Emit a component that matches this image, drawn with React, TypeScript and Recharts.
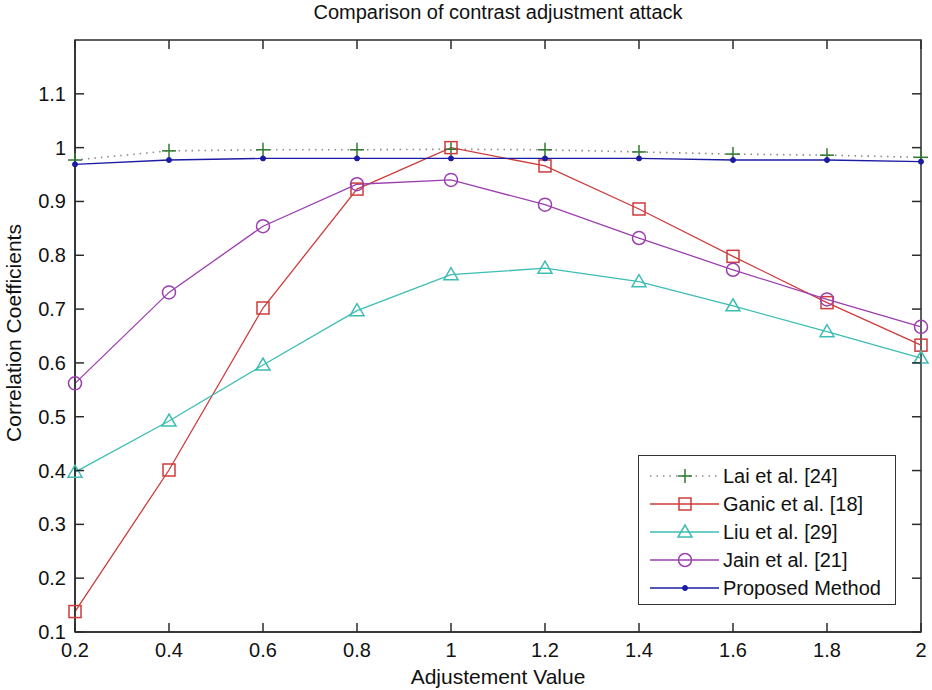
import { LineChart, Line, XAxis, YAxis, Legend, ReferenceArea } from "recharts";

const FONT = "'Liberation Sans', Arial, sans-serif";
const AXIS = "#2b2b2b";

// plot frame edges (px) used for the mirrored inner ticks
const PLOT_TOP = 40;
const PLOT_RIGHT = 921;

// adjustment values on the x axis
const adjustment = [0.2, 0.4, 0.6, 0.8, 1.0, 1.2, 1.4, 1.6, 1.8, 2.0];

// correlation coefficients per method
const lai = [0.977, 0.994, 0.996, 0.996, 0.997, 0.996, 0.992, 0.988, 0.986, 0.982];
const ganic = [0.138, 0.401, 0.702, 0.923, 1.0, 0.966, 0.886, 0.798, 0.712, 0.633];
const liu = [0.397, 0.492, 0.596, 0.697, 0.764, 0.776, 0.751, 0.706, 0.658, 0.609];
const jain = [0.562, 0.731, 0.854, 0.932, 0.94, 0.894, 0.832, 0.773, 0.718, 0.667];
const proposed = [0.969, 0.977, 0.98, 0.98, 0.98, 0.98, 0.98, 0.977, 0.977, 0.974];

const xTicks = [0.2, 0.4, 0.6, 0.8, 1, 1.2, 1.4, 1.6, 1.8, 2];
const yTicks = [0.1, 0.2, 0.3, 0.4, 0.5, 0.6, 0.7, 0.8, 0.9, 1, 1.1];

const data = adjustment.map((x, i) => ({
  x,
  lai: lai[i],
  ganic: ganic[i],
  liu: liu[i],
  jain: jain[i],
  proposed: proposed[i],
}));

type MarkerKind = "plus" | "square" | "triangle" | "circle" | "dot";

const SERIES: {
  key: string;
  name: string;
  line: string;
  marker: string;
  kind: MarkerKind;
  dash?: string;
}[] = [
  { key: "lai", name: "Lai et al. [24]", line: "#8a8a8a", marker: "#2f7a2f", kind: "plus", dash: "1.5 5" },
  { key: "ganic", name: "Ganic et al. [18]", line: "#cf3b3b", marker: "#cf3b3b", kind: "square" },
  { key: "liu", name: "Liu et al. [29]", line: "#3dbdb4", marker: "#3dbdb4", kind: "triangle" },
  { key: "jain", name: "Jain et al. [21]", line: "#9c3fae", marker: "#9c3fae", kind: "circle" },
  { key: "proposed", name: "Proposed Method", line: "#1b1ba3", marker: "#1b1ba3", kind: "dot" },
];

function Marker({ kind, cx, cy, color }: { kind: MarkerKind; cx: number; cy: number; color: string }) {
  const common = { fill: "none", stroke: color, strokeWidth: 1.5 };
  switch (kind) {
    case "plus":
      return (
        <g {...common}>
          <line x1={cx - 7} y1={cy} x2={cx + 7} y2={cy} />
          <line x1={cx} y1={cy - 7} x2={cx} y2={cy + 7} />
        </g>
      );
    case "square":
      return <rect x={cx - 6} y={cy - 6} width={12} height={12} {...common} />;
    case "triangle":
      return <polygon points={`${cx},${cy - 7} ${cx - 7},${cy + 5} ${cx + 7},${cy + 5}`} {...common} />;
    case "circle":
      return <circle cx={cx} cy={cy} r={6.5} {...common} />;
    default:
      return <circle cx={cx} cy={cy} r={2.5} fill={color} stroke={color} strokeWidth={1} />;
  }
}

const fmt = (v: number) => String(Math.round(v * 10) / 10);

// bottom tick: inward mark on the bottom and top frame, label below
const BottomTick = ({ x, y, payload }: any) => (
  <g>
    <line x1={x} y1={y} x2={x} y2={y - 9} stroke={AXIS} strokeWidth={1.5} />
    <line x1={x} y1={PLOT_TOP} x2={x} y2={PLOT_TOP + 9} stroke={AXIS} strokeWidth={1.5} />
    <text x={x} y={y + 25} textAnchor="middle" fontSize={20} fontFamily={FONT} fill="#111">
      {fmt(payload.value)}
    </text>
  </g>
);

// left tick: inward mark on the left and right frame, label to the left
const LeftTick = ({ x, y, payload }: any) => (
  <g>
    <line x1={x} y1={y} x2={x + 9} y2={y} stroke={AXIS} strokeWidth={1.5} />
    <line x1={PLOT_RIGHT} y1={y} x2={PLOT_RIGHT - 9} y2={y} stroke={AXIS} strokeWidth={1.5} />
    <text x={x - 9} y={y + 7} textAnchor="end" fontSize={20} fontFamily={FONT} fill="#111">
      {fmt(payload.value)}
    </text>
  </g>
);

const LegendBox = () => (
  <div
    style={{
      width: 258,
      height: 150,
      border: "1.5px solid #333",
      background: "#fff",
      boxSizing: "border-box",
      paddingTop: 6,
      fontFamily: FONT,
      fontSize: 20,
      color: "#111",
    }}
  >
    {SERIES.map((s) => (
      <div key={s.key} style={{ display: "flex", alignItems: "center", height: 28 }}>
        <svg width={84} height={28} style={{ flex: "none" }}>
          <line x1={11} y1={14} x2={80} y2={14} stroke={s.line} strokeWidth={1.5} strokeDasharray={s.dash} />
          <Marker kind={s.kind} cx={46} cy={14} color={s.marker} />
        </svg>
        <span style={{ whiteSpace: "nowrap" }}>{s.name}</span>
      </div>
    ))}
  </div>
);

export default function App() {
  return (
    <div style={{ position: "relative", width: 932, height: 690, background: "#fff" }}>
      <style>{"body{margin:0}"}</style>
      <LineChart
        width={932}
        height={690}
        data={data}
        margin={{ top: PLOT_TOP, right: 932 - PLOT_RIGHT, bottom: 0, left: 0 }}
      >
        <XAxis
          dataKey="x"
          type="number"
          domain={[0.2, 2]}
          ticks={xTicks}
          height={58}
          tickSize={0}
          tickMargin={0}
          tickLine={false}
          tick={<BottomTick />}
          axisLine={{ stroke: AXIS, strokeWidth: 1.5 }}
          interval={0}
        />
        <YAxis
          type="number"
          domain={[0.1, 1.2]}
          ticks={yTicks}
          width={75}
          tickSize={0}
          tickMargin={0}
          tickLine={false}
          tick={<LeftTick />}
          axisLine={{ stroke: AXIS, strokeWidth: 1.5 }}
          interval={0}
        />
        {/* frame around the plot area */}
        <ReferenceArea x1={0.2} x2={2} y1={0.1} y2={1.2} fill="none" stroke={AXIS} strokeWidth={1.5} />
        {SERIES.map((s) => (
          <Line
            key={s.key}
            dataKey={s.key}
            name={s.name}
            type="linear"
            stroke={s.line}
            strokeWidth={s.kind === "plus" ? 1.6 : 1.3}
            strokeDasharray={s.dash}
            isAnimationActive={false}
            dot={(p: any) => <Marker key={`${s.key}-${p.index}`} kind={s.kind} cx={p.cx} cy={p.cy} color={s.marker} />}
            activeDot={false}
          />
        ))}
        <Legend
          layout="vertical"
          align="center"
          verticalAlign="middle"
          content={<LegendBox />}
          wrapperStyle={{ left: 638, top: 455, width: 258 }}
        />
        <text x={498} y={19} textAnchor="middle" fontSize={20} fontFamily={FONT} fill="#111">
          Comparison of contrast adjustment attack
        </text>
        <text x={498} y={684} textAnchor="middle" fontSize={21} fontFamily={FONT} fill="#111">
          Adjustement Value
        </text>
        <text
          x={21}
          y={333}
          textAnchor="middle"
          fontSize={21}
          fontFamily={FONT}
          fill="#111"
          transform="rotate(-90 21 333)"
        >
          Correlation Coefficients
        </text>
      </LineChart>
    </div>
  );
}
